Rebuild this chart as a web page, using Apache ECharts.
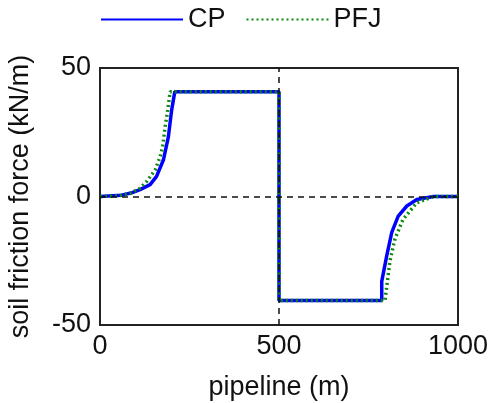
<!DOCTYPE html>
<html>
<head>
<meta charset="utf-8">
<script src="https://cdn.jsdelivr.net/npm/echarts@6/dist/echarts.min.js"></script>
<style>
  html, body { margin: 0; padding: 0; background: #fff; }
  #chart-dev { width: 488px; height: 403px; }
</style>
</head>
<body>
<div id="chart-dev"></div>
<script>
// pipeline position (m) and soil friction force (kN/m)
var cpX = [0, 60, 90, 112, 140, 158, 177, 191, 200, 209, 500, 500, 787, 787, 801, 815, 833, 857, 885, 931, 1000];
var cpY = [0, 0.5, 1.5, 2.7, 4.6, 7.8, 14.2, 23.2, 33.5, 40.8, 40.8, -40.5, -40.5, -33, -23, -14, -7.6, -3.7, -1.2, 0, 0];
var pfjX = [0, 50, 84, 112, 130, 154, 168, 175, 182, 188, 191, 196, 500, 500, 796, 810, 824, 846, 885, 931, 1000];
var pfjY = [0, 0.2, 1.2, 3.2, 5.8, 10.3, 15.5, 19.4, 27.2, 32.4, 35.6, 40.8, 40.8, -40.5, -40.5, -25, -16.5, -9, -2.4, 0, 0];
var seriesNames = ['CP', 'PFJ'];

function pairs(xs, ys) {
    return xs.map(function (x, i) { return [x, ys[i]]; });
}

var dom = document.getElementById('chart-dev');
var myChart = echarts.init(dom, null, { renderer: 'canvas' });

var font = 'Liberation Sans';
var option = {
    animation: false,
    textStyle: { fontFamily: font, color: '#111' },
    legend: {
        top: 1,
        left: 95,
        itemWidth: 82,
        itemHeight: 14,
        itemGap: 20,
        itemStyle: { opacity: 0 },
        textStyle: { fontSize: 27, fontFamily: font, color: '#111' },
        data: seriesNames
    },
    grid: {
        left: 100,
        right: 30,
        top: 68,
        bottom: 78,
        outerBoundsMode: 'none',
        show: true,
        borderColor: '#222',
        borderWidth: 2,
        backgroundColor: '#fff'
    },
    xAxis: {
        type: 'value',
        min: 0,
        max: 1000,
        interval: 500,
        name: 'pipeline (m)',
        nameLocation: 'middle',
        nameGap: 49,
        nameTextStyle: { fontSize: 27, fontFamily: font, color: '#111' },
        axisLine: { show: false },
        axisTick: { show: false },
        splitLine: { show: false },
        axisLabel: {
            fontSize: 27, fontFamily: font, color: '#111', margin: 8,
            formatter: function (v) { return String(v); }
        }
    },
    yAxis: {
        type: 'value',
        min: -50,
        max: 50,
        interval: 50,
        name: 'soil friction force (kN/m)',
        nameLocation: 'middle',
        nameGap: 66,
        nameTextStyle: { fontSize: 27, fontFamily: font, color: '#111' },
        axisLine: { show: false },
        axisTick: { show: false },
        splitLine: { show: false },
        axisLabel: { fontSize: 27, fontFamily: font, color: '#111', margin: 9 }
    },
    series: [
        {
            name: seriesNames[0],
            type: 'line',
            symbol: 'none',
            data: pairs(cpX, cpY),
            lineStyle: { color: '#0000ff', width: 3.5 },
            itemStyle: { color: '#0000ff' },
            z: 3,
            markLine: {
                silent: true,
                symbol: 'none',
                label: { show: false },
                lineStyle: { color: '#111', type: [6, 5], width: 1.5 },
                data: [{ xAxis: 500 }, { yAxis: 0 }]
            }
        },
        {
            name: seriesNames[1],
            type: 'line',
            symbol: 'none',
            data: pairs(pfjX, pfjY),
            lineStyle: { color: '#0a8a0a', width: 3.5, type: [2, 3] },
            itemStyle: { color: '#0a8a0a' },
            z: 4
        }
    ]
};

myChart.setOption(option);
window.addEventListener('resize', myChart.resize);
</script>
</body>
</html>
